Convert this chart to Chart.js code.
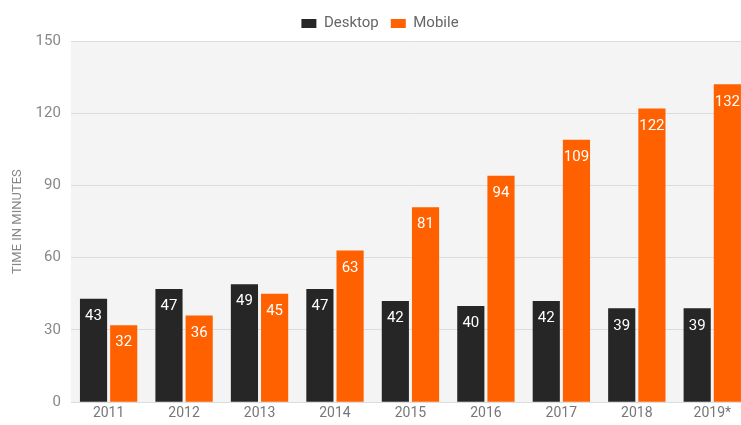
<!DOCTYPE html>
<html>
<head>
<meta charset="utf-8">
<script src="https://cdn.jsdelivr.net/npm/chart.js@4/dist/chart.umd.min.js"></script>
<style>
  html, body { margin: 0; padding: 0; background: #fff; overflow: hidden; }
  #wrap { width: 760px; height: 425px; position: relative; }
</style>
</head>
<body>
<div id="wrap"><canvas id="chart"></canvas></div>
<script>
// data
const years = ["2011", "2012", "2013", "2014", "2015", "2016", "2017", "2018", "2019*"];
const desktop = [43, 47, 49, 47, 42, 40, 42, 39, 39];
const mobile = [32, 36, 45, 63, 81, 94, 109, 122, 132];
const yTicks = [0, 30, 60, 90, 120, 150];

const FONT = "Roboto, sans-serif";

// grey plot background
const plotBg = {
  id: "plotBg",
  beforeDraw(chart) {
    const { ctx, chartArea: a } = chart;
    ctx.save();
    ctx.fillStyle = "#f4f4f4";
    ctx.fillRect(a.left, a.top, a.right - a.left, a.bottom - a.top);
    ctx.restore();
  },
};

// white value labels inside the top of each bar
const barLabels = {
  id: "barLabels",
  afterDatasetsDraw(chart) {
    const { ctx } = chart;
    ctx.save();
    ctx.font = "15px " + FONT;
    ctx.fillStyle = "#ffffff";
    ctx.textAlign = "center";
    ctx.textBaseline = "top";
    chart.data.datasets.forEach((ds, i) => {
      chart.getDatasetMeta(i).data.forEach((bar, j) => {
        ctx.fillText(ds.data[j], bar.x, bar.y + 10);
      });
    });
    ctx.restore();
  },
};

new Chart(document.getElementById("chart"), {
  type: "bar",
  data: {
    labels: years,
    datasets: [
      { label: "Desktop", data: desktop, backgroundColor: "#262626" },
      { label: "Mobile", data: mobile, backgroundColor: "#ff6000" },
    ],
  },
  options: {
    responsive: true,
    maintainAspectRatio: false,
    animation: false,
    layout: { padding: { left: 10, right: 10, top: 4, bottom: 0 } },
    datasets: { bar: { categoryPercentage: 0.8, barPercentage: 0.9 } },
    plugins: {
      legend: {
        position: "top",
        labels: {
          boxWidth: 15,
          boxHeight: 9,
          padding: 12,
          color: "#666",
          font: { family: FONT, size: 15 },
        },
      },
      tooltip: { enabled: false },
    },
    scales: {
      x: {
        grid: { display: false, drawTicks: false },
        border: { display: false },
        ticks: { color: "#777", font: { family: FONT, size: 14 }, padding: 3 },
      },
      y: {
        min: 0,
        max: 150,
        afterBuildTicks(axis) { axis.ticks = yTicks.map((v) => ({ value: v })); },
        grid: { color: "#dcdcdc", drawTicks: false },
        border: { display: false },
        ticks: { color: "#888", font: { family: FONT, size: 15 }, padding: 10 },
        title: {
          display: true,
          text: "TIME IN MINUTES",
          color: "#888",
          font: { family: FONT, size: 13 },
          padding: { top: 0, bottom: 0 },
        },
      },
    },
  },
  plugins: [plotBg, barLabels],
});
</script>
</body>
</html>
